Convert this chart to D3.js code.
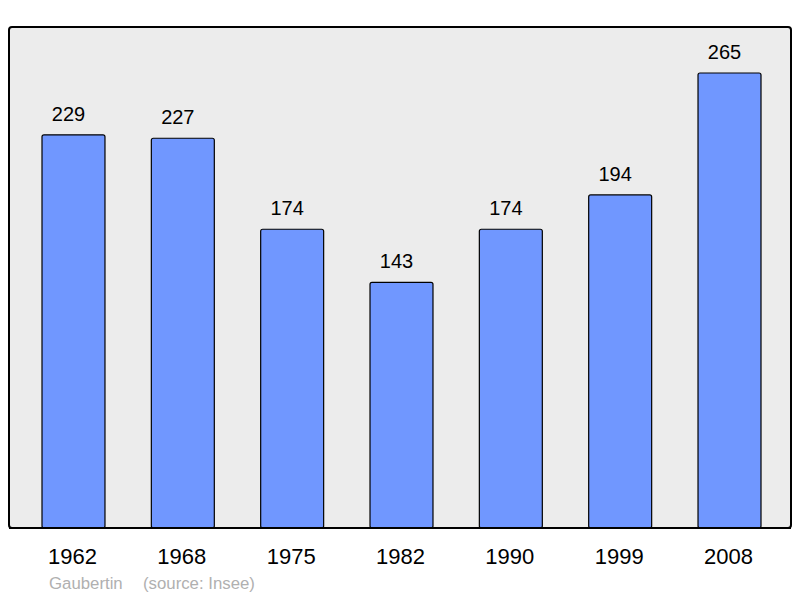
<!DOCTYPE html>
<html>
<head>
    <script src="https://cdnjs.cloudflare.com/ajax/libs/d3/7.8.5/d3.min.js"></script>
    <style>
        body { margin: 0; background: white; }
        svg { display: block; font-family: "Liberation Sans", Arial, sans-serif; }
    </style>
</head>
<body>
    <svg width="800" height="598"></svg>
    <script>
        const years = ["1962", "1968", "1975", "1982", "1990", "1999", "2008"];
        const population = [229, 227, 174, 143, 174, 194, 265];

        const svg = d3.select("svg");
        const frame = { left: 9, top: 27, right: 791, bottom: 528 };

        // plot background
        svg.append("rect")
           .attr("x", frame.left).attr("y", frame.top)
           .attr("width", frame.right - frame.left).attr("height", frame.bottom - frame.top)
           .attr("rx", 3)
           .attr("fill", "#ececec").attr("stroke", "#000").attr("stroke-width", 2);

        // band scale: first bar at 42, step ~109.3, width ~63
        const x = d3.scaleBand().domain(years)
            .range([9.2, 793.8])
            .paddingInner(0.424).paddingOuter(0.3);
        const y = d3.scaleLinear().domain([0, 265]).range([frame.bottom, 73]);

        svg.selectAll(".bar").data(years).enter().append("rect")
           .attr("class", "bar")
           .attr("x", d => x(d))
           .attr("y", (d, i) => y(population[i]))
           .attr("width", x.bandwidth())
           .attr("height", (d, i) => frame.bottom - y(population[i]))
           .attr("rx", 2)
           .attr("fill", "#7097ff").attr("stroke", "#000").attr("stroke-width", 1.2);

        // value labels sit a little left of the bar centre
        svg.selectAll(".val").data(years).enter().append("text")
           .attr("x", d => x(d) + x.bandwidth() / 2 - 5)
           .attr("y", (d, i) => y(population[i]) - 14)
           .attr("text-anchor", "middle").attr("font-size", "20px")
           .text((d, i) => population[i]);

        // bottom frame line drawn over bars
        svg.append("line")
           .attr("x1", frame.left).attr("x2", frame.right)
           .attr("y1", frame.bottom).attr("y2", frame.bottom)
           .attr("stroke", "#000").attr("stroke-width", 2);

        svg.selectAll(".year").data(years).enter().append("text")
           .attr("x", d => x(d) + x.bandwidth() / 2 - 1)
           .attr("y", 564)
           .attr("text-anchor", "middle").attr("font-size", "22px")
           .text(d => d);

        svg.append("text").attr("x", 49).attr("y", 589)
           .attr("font-size", "16.8px").attr("fill", "#b0b0b0")
           .text("Gaubertin");
        svg.append("text").attr("x", 143).attr("y", 589)
           .attr("font-size", "16.8px").attr("fill", "#b0b0b0")
           .text("(source: Insee)");
    </script>
</body>
</html>
